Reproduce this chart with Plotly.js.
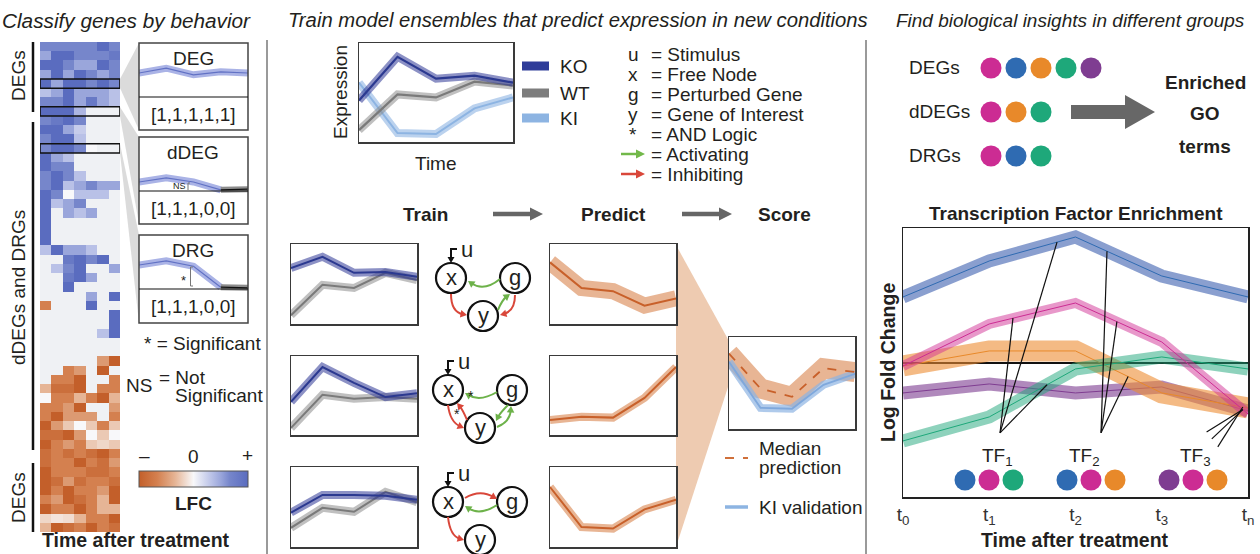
<!DOCTYPE html>
<html>
<head>
<meta charset="utf-8">
<script src="https://cdn.plot.ly/plotly-3.0.1.min.js"></script>
<style>html,body{margin:0;padding:0;background:#fff;overflow:hidden}</style>
</head>
<body>
<div id="chart" style="width:1260px;height:554px"></div>
<script>
// ================= DATA =================
const N = null;
// heatmap: log fold change per gene (rows) and time point (columns); null = not significant
const heatColumns = [0,1,2,3,4,5,6];
const heatLFC = [
 [2,2,2,2,2,3,2],
 [1.5,3,3,2,2,2,2.5],
 [3,3,2,1.5,1.5,3,2],
 [1.5,3,1.5,3,2,1.5,2],
 [3,1.5,3,3,2,3,2],
 [1,1.5,3,1.5,1.5,1.5,1],
 [2,2,3,1.5,2.5,1.5,1],
 [3,3,3,1.2,N,N,N],
 [2,2.5,3,2,N,N,N],
 [3,3,1.5,0.8,N,N,N],
 [2,3,3,1,N,N,N],
 [2,3,3,2,0,N,N],
 [3,1.5,1,N,N,N,N],
 [3,2,2,N,N,N,N],
 [2,3,2,1,N,N,N],
 [2,3,1,1.5,2,1.5,1.5],
 [3,2,0,1,1,1,N],
 [3,1,1.5,2,N,N,N],
 [3,N,1.5,1,1.5,N,N],
 [3,N,N,N,N,N,N],
 [3,N,N,N,N,N,N],
 [3,N,N,N,N,N,N],
 [1,3,1.5,1.5,1,N,N],
 [N,N,2.5,3,2,3,N],
 [N,1,2,3,N,N,1.5],
 [N,N,2.5,3,1.5,N,N],
 [N,N,3,N,N,N,N],
 [N,N,N,N,1.5,N,3],
 [-2,N,N,N,3,N,N],
 [N,N,N,N,N,N,3],
 [N,N,N,N,N,N,3],
 [N,N,N,N,N,1,3],
 [N,N,N,N,N,N,N],
 [N,N,N,N,N,N,N],
 [N,N,N,N,N,-1.5,-3],
 [N,N,-2,-1.5,N,-3,N],
 [N,-2,-2,-3,N,N,-2],
 [-1,-2.5,-2.5,-3,N,-2,-2],
 [0,-2,-2,-1,-2,-3,-1],
 [-2,-2,-1.5,-3,N,N,-1.5],
 [-2,-3,-1.5,-1.5,-1.5,N,-2],
 [-3,-1.5,-0.7,0,-0.7,-2,-0.7],
 [-2.5,-2.5,-3,-1.5,0,-0.7,0],
 [-3,-2,-1.5,-2,-0.7,-0.5,-0.7],
 [-2.5,-2,-2.5,-2,-2.5,-3,-2],
 [-2.5,-2,-2,-3,-2,-2.5,-1.5],
 [-3,-2,-2,-2,-2.5,-2.5,-2],
 [-3,-2.5,-1.5,-2.5,-2,-2,-2.5],
 [-3,-2,-3,-2,-2,-1.5,-3],
 [-2,-1.5,-3,-2.5,-2,-1,-3],
 [-3,-2,-2,-3,-2,-1,-1],
 [-0.5,-0.3,-0.4,-1,-2,-2,-3],
 [-1,-3,-2.5,-2,-3,-2,-2.5]
];
const highlightedRows = [4,7,11];

// inset example profiles
const insetTimes = [0,1,2,3,4];
const degProfile  = [0.50,0.58,0.47,0.52,0.50];
const ddegProfile = [0.25,0.32,0.25,0.12,N];
const ddegFlat    = [N,N,N,0.12,0.13];
const drgProfile  = [0.50,0.57,0.48,0.13,N];
const drgFlat     = [N,N,N,0.13,0.12];

// middle: expression schematic
const timePoints = [0,1,2,3,4];
const exprKO = [4.2,8.6,6.4,6.7,6.0];
const exprWT = [1.2,4.8,4.5,6.1,5.7];
const exprKI = [6.0,0.9,0.8,3.4,4.5];

// training data per model (KO and WT)
const train1KO = [7.0,8.4,6.4,6.5,5.9], train1WT = [1.1,4.9,4.5,6.4,5.5];
const train2KO = [4.2,8.6,6.6,4.8,5.3], train2WT = [0.9,5.1,4.6,4.8,4.6];
const train3KO = [4.3,6.5,6.5,6.4,5.9], train3WT = [2.4,4.9,4.4,6.9,5.6];
// KI predictions per model
const predict1 = [7.7,4.5,4.1,2.3,3.2];
const predict2 = [1.9,2.3,2.2,4.7,8.6];
const predict3 = [7.5,2.5,2.3,4.7,5.9];
// scoring
const medianPrediction = [8.2,4.4,3.5,6.6,6.2];
const kiValidation     = [7.3,2.3,2.2,4.8,6.0];

// right: transcription factor enrichment
const tfTickLabels = ['t<sub>0</sub>','t<sub>1</sub>','t<sub>2</sub>','t<sub>3</sub>','t<sub>n</sub>'];
const lfcBlue    = [2.2,3.4,4.2,2.9,2.2];
const lfcMagenta = [-0.1,1.3,2.0,0.7,-1.7];
const lfcOrange  = [-0.1,0.4,0.4,-1.0,-1.5];
const lfcGreen   = [-2.6,-1.8,-0.2,0.2,-0.2];
const lfcPurple  = [-1.0,-0.7,-1.0,-0.8,-1.6];
const goGroups = ['DEGs','dDEGs','DRGs'];
const goTerms  = [['magenta','blue','orange','green','purple'],['magenta','orange','green'],['magenta','blue','green']];
const tfNames   = ['TF<sub>1</sub>','TF<sub>2</sub>','TF<sub>3</sub>'];
const tfMembers = [['blue','magenta','green'],['blue','magenta','orange'],['purple','magenta','orange']];
const tfTargets = [['magenta',1.275],['blue',1.786],['green',1.67],['blue',2.365],['magenta',2.48],['orange',2.61],['purple',3.94],['magenta',3.94],['orange',3.94]];

// ================= STYLE / LAYOUT =================
const W = 1260, H = 554;
const FF  = '"Liberation Sans", Arial, Helvetica, sans-serif';
const FFN = '"Liberation Sans Narrow", "Liberation Sans", Arial, sans-serif';
const INK = '#231f20';
const C = {magenta:'#cc2c93', blue:'#2f6bb2', orange:'#e8892a', green:'#1ea87a', purple:'#7f3d91'};
const dx = (a,b)=>[a/W, b/W];
const dy = (a,b)=>[1-b/H, 1-a/H];

const layout = {width:W, height:H, margin:{l:0,r:0,t:0,b:0}, paper_bgcolor:'#fff', plot_bgcolor:'rgba(0,0,0,0)',
  showlegend:false, font:{family:FF, color:INK}, shapes:[], annotations:[], hovermode:false};
function hiddenAx(dom, range, anchor){ return {domain:dom, range:range, visible:false, fixedrange:true, anchor:anchor}; }
function boxAx(dom, range, anchor, extra){ return Object.assign({domain:dom, range:range, anchor:anchor, showline:true, mirror:true,
  linecolor:'#3a3a3a', linewidth:1.5, showgrid:false, zeroline:false, showticklabels:false, ticks:'', fixedrange:true}, extra||{}); }
function setAx(n, xa, ya){ layout['xaxis'+(n===1?'':n)] = xa; layout['yaxis'+(n===1?'':n)] = ya; }

setAx(1, hiddenAx([0,1],[0,W],'y'), hiddenAx([0,1],[H,0],'x'));
setAx(2, hiddenAx(dx(40,120),[-0.5,6.5],'y2'), hiddenAx(dy(42,532),[52.5,-0.5],'x2'));
setAx(3, hiddenAx(dx(139,248),[0,4],'y3'), hiddenAx(dy(43,103),[0,1],'x3'));
setAx(4, hiddenAx(dx(139,248),[0,4],'y4'), hiddenAx(dy(137,197),[0,1],'x4'));
setAx(5, hiddenAx(dx(139,248),[0,4],'y5'), hiddenAx(dy(235,295),[0,1],'x5'));
setAx(6, boxAx(dx(359,513),[0,4],'y6'), boxAx(dy(43,142),[0,10],'x6'));
const rowsY = [[244,324],[356,435],[467,547]];
rowsY.forEach((r,i)=>{
  setAx(7+i, boxAx(dx(291,417),[0,4],'y'+(7+i)), boxAx(dy(r[0],r[1]),[0,10],'x'+(7+i)));
  setAx(10+i, boxAx(dx(550,676),[0,4],'y'+(10+i)), boxAx(dy(r[0],r[1]),[0,10],'x'+(10+i)));
});
setAx(13, boxAx(dx(729,855),[0,4],'y13'), boxAx(dy(337,429),[0,10],'x13'));
setAx(14, boxAx(dx(903,1248),[0,4],'y14',{tickvals:timePoints, ticktext:tfTickLabels, showticklabels:true, tickfont:{size:19,color:'#333'}, ticklabelstandoff:0, layer:'above traces', linecolor:'#222'}),
          boxAx(dy(228,497),[-4.47,4.5],'x14',{zeroline:true, zerolinecolor:'#111', zerolinewidth:1.2, layer:'above traces', linecolor:'#222'}));
setAx(15, hiddenAx(dx(978.5,1103.5),[-0.5,4.5],'y15'), hiddenAx(dy(46,178),[2.5,-0.5],'x15'));
setAx(16, hiddenAx(dx(953,1229),[-0.5,11],'y16'), hiddenAx(dy(470,490),[-1,1],'x16'));

const S = layout.shapes, A = layout.annotations;
function seg(x0,y0,x1,y1,color,width,o){ S.push(Object.assign({type:'line',xref:'x',yref:'y',x0,y0,x1,y1,line:{color,width},layer:'above'},o||{})); }
function rect(x0,y0,x1,y1,o){ S.push(Object.assign({type:'rect',xref:'x',yref:'y',x0,y0,x1,y1,line:{color:'#444',width:1.5},fillcolor:'rgba(0,0,0,0)',layer:'above'},o||{})); }
function poly(pts,fill,o){ S.push(Object.assign({type:'path',xref:'x',yref:'y',path:'M'+pts.map(p=>p[0]+','+p[1]).join(' L')+' Z',fillcolor:fill,line:{width:0},layer:'above'},o||{})); }
function head(x,y,ddx,ddy,color,L,hw){ const n=Math.hypot(ddx,ddy), ux=ddx/n, uy=ddy/n, bx=x-ux*L, by=y-uy*L;
  poly([[x,y],[bx-uy*hw,by+ux*hw],[bx+uy*hw,by-ux*hw]],color); }
function txt(x,y,text,size,o,font){ A.push(Object.assign({xref:'x',yref:'y',x,y,text,showarrow:false,xanchor:'center',yanchor:'middle',
  font:Object.assign({size:size||19,family:FF,color:INK},font||{})},o||{})); }

// ================= TRACES =================
const traces = [];
function ln(ax, xs, ys, color, width, extra){ const s = ax===1?'':ax;
  traces.push(Object.assign({type:'scatter',mode:'lines',x:xs,y:ys,xaxis:'x'+s,yaxis:'y'+s,line:{color,width},hoverinfo:'skip',connectgaps:false},extra||{})); }

// heatmap
const lfcScale = [[0,'#c35f2a'],[0.167,'#d4804f'],[0.25,'#dc9a72'],[0.333,'#e6b596'],[0.5,'#f8f8fa'],[0.667,'#b9c1e7'],[0.75,'#9aa6db'],[0.833,'#7686cb'],[1,'#5a6cbf']];
traces.push({type:'heatmap', z:heatLFC, x:heatColumns, xaxis:'x2', yaxis:'y2', zmin:-3, zmax:3, colorscale:lfcScale, hoverinfo:'skip',
  showscale:true, colorbar:{orientation:'h', x:139/W, xanchor:'left', y:1-471/H, yanchor:'top', len:109, lenmode:'pixels', thickness:16, thicknessmode:'pixels',
  outlinewidth:1, outlinecolor:'#555', showticklabels:false, ticks:'', xpad:0, ypad:0, borderwidth:0}});
S.push({type:'rect',xref:'x2',yref:'y2',x0:-0.5,x1:6.5,y0:-0.5,y1:52.5,fillcolor:'#eff1f4',line:{width:0},layer:'below'});
highlightedRows.forEach(r=>S.push({type:'rect',xref:'x2',yref:'y2',x0:-0.5,x1:6.5,y0:r-0.5,y1:r+0.5,line:{color:'#111',width:1.6},layer:'above'}));

// insets
const insetBand='#aab3e6', insetLine='#6272c4';
[[3,degProfile,null],[4,ddegProfile,ddegFlat],[5,drgProfile,drgFlat]].forEach(([ax,p,f])=>{
  ln(ax, insetTimes, p, insetBand, 7); ln(ax, insetTimes, p, insetLine, 1.2);
  if(f){ ln(ax, insetTimes, f, '#8c8c8c', 6); ln(ax, insetTimes, f, '#111', 1.3); }
});

// expression schematic
ln(6,timePoints,exprKI,'rgba(141,180,226,0.6)',8); ln(6,timePoints,exprKI,'#8db4e2',2);
ln(6,timePoints,exprWT,'rgba(140,140,140,0.55)',8); ln(6,timePoints,exprWT,'#7a7a7a',2.2);
ln(6,timePoints,exprKO,'rgba(45,55,150,0.55)',8); ln(6,timePoints,exprKO,'#2b3990',2.2);

// train
[[7,train1KO,train1WT],[8,train2KO,train2WT],[9,train3KO,train3WT]].forEach(([ax,ko,wt])=>{
  ln(ax,timePoints,wt,'rgba(140,140,140,0.55)',8); ln(ax,timePoints,wt,'#7a7a7a',2);
  ln(ax,timePoints,ko,'rgba(45,55,150,0.55)',8); ln(ax,timePoints,ko,'#2b3990',2);
});
// predict
[[10,predict1,16],[11,predict2,8],[12,predict3,8]].forEach(([ax,p,w])=>{
  ln(ax,timePoints,p,'rgba(214,120,60,0.55)',w); ln(ax,timePoints,p,'#c8602a',2);
});
// score
ln(13,timePoints,medianPrediction,'rgba(214,120,60,0.55)',20);
ln(13,timePoints,kiValidation,'rgba(141,180,226,0.7)',8); ln(13,timePoints,kiValidation,'#7fa8dc',1.8);
ln(13,timePoints,medianPrediction,'#c8602a',1.8,{line:{color:'#c8602a',width:1.8,dash:'dash'}});

// TF chart
const tfSeries = {purple:lfcPurple, orange:lfcOrange, green:lfcGreen, magenta:lfcMagenta, blue:lfcBlue};
const tfBand = {purple:['rgba(124,59,143,0.6)',13], orange:['rgba(236,140,50,0.6)',21], green:['rgba(30,166,122,0.5)',13], magenta:['rgba(210,50,150,0.5)',10], blue:['rgba(60,95,175,0.6)',13]};
Object.keys(tfSeries).forEach(k=>{ ln(14,timePoints,tfSeries[k],tfBand[k][0],tfBand[k][1]); ln(14,timePoints,tfSeries[k],C[k],1); });

// GO circles
goTerms.forEach((row,gi)=>traces.push({type:'scatter',mode:'markers',x:row.map((_,i)=>i),y:row.map(()=>gi),xaxis:'x15',yaxis:'y15',
  marker:{size:21,color:row.map(c=>C[c]),line:{width:0}},hoverinfo:'skip',cliponaxis:false}));
goGroups.forEach((g,gi)=>A.push({xref:'x',yref:'y15',x:907,y:gi,text:g,showarrow:false,xanchor:'left',yanchor:'middle',font:{size:19,family:FF,color:INK}}));
// TF circles
tfMembers.forEach((row,gi)=>traces.push({type:'scatter',mode:'markers',x:row.map((_,i)=>gi*4.25+i),y:row.map(()=>0),xaxis:'x16',yaxis:'y16',
  marker:{size:21,color:row.map(c=>C[c]),line:{width:0}},hoverinfo:'skip',cliponaxis:false}));

// TF link lines (data coords of TF axis)
function interp(arr,x){ const i=Math.min(Math.floor(x),arr.length-2), f=x-i; return arr[i]*(1-f)+arr[i+1]*f; }
const tfLinkFrom = [[1.125,-2.33],[1.125,-2.33],[1.125,-2.33],[2.296,-2.33],[2.296,-2.33],[2.296,-2.33],[3.52,-2.3],[3.58,-2.53],[3.65,-2.8]];
tfTargets.forEach((t,i)=>S.push({type:'line',xref:'x14',yref:'y14',x0:tfLinkFrom[i][0],y0:tfLinkFrom[i][1],x1:t[1],y1:interp(tfSeries[t[0]],t[1]),line:{color:'#111',width:1.2},layer:'above'}));

// ================= SCHEMATIC SHAPES =================
// panel separators
seg(267,40,267,554,'#9a9a9a',2); seg(866,40,866,554,'#9a9a9a',2);
// wedges from highlighted rows to insets
poly([[120,79],[139,43],[139,130],[120,88]],'rgba(165,165,165,0.4)',{layer:'below'});
poly([[120,107],[139,137],[139,224],[120,116]],'rgba(165,165,165,0.4)',{layer:'below'});
poly([[120,144],[139,235],[139,323],[120,153]],'rgba(165,165,165,0.4)',{layer:'below'});
// inset boxes
rect(139,43,248,130); seg(139,97,248,97,'#111',1.2);
rect(139,137,248,224); seg(139,191,248,191,'#111',1.2);
rect(139,235,248,323); seg(139,289,248,289,'#111',1.2);
S.push({type:'path',xref:'x',yref:'y',path:'M190,183 L188,183 L188,190',line:{color:'#777',width:1},layer:'above'});
S.push({type:'path',xref:'x',yref:'y',path:'M193,267 L190.5,267 L190.5,286 L193,286',line:{color:'#777',width:1},layer:'above'});
// left group bars
seg(33,42,33,112,'#111',2.5); seg(33,122,33,450,'#111',2.5); seg(33,463,33,532,'#111',2.5);

// middle legend swatches
seg(522,66,549,66,'#2e3c99',9); seg(522,93,549,93,'#7d7d7d',9); seg(522,118,549,118,'#8db4e2',9);
seg(621,154,637,154,'#72b84a',2.5); head(645,154,1,0,'#72b84a',9,4.5);
seg(621,174,637,174,'#d9473a',2.5); head(645,174,1,0,'#d9473a',9,4.5);
// step arrows
seg(493,214,531,214,'#666',4.5); head(543,214,1,0,'#666',13,6.5);
seg(682,214,720,214,'#666',4.5); head(732,214,1,0,'#666',13,6.5);
// funnel to score box
poly([[676,245],[729,341],[729,384],[676,547]],'#eecbb1',{layer:'below'});
// score legend
seg(725,458,748,458,'#d0703a',2.2,{line:{color:'#d0703a',width:2.2,dash:'dash'}});
seg(725,507,748,507,'#8db4e2',3.5);

// networks
const netOrigins = [[483,278],[480,390],[480,502]];
const nodeOff = {x:[-32,0], g:[32,0], y:[0,38]};
const GREEN='#6db24a', RED='#d9473a';
const netArrows = [
 [['G',17,1,1,14,-15,3],['R',-32,16,-32,34,-16,37],['G',15,32,19,22,27,16],['R',32,17,32,33,17,37]],
 [['G',17,2,0,12,-15,3],['R',-32,15,-30,32,-16,38],['R',-13,30,-17,20,-23,13],['G',17,37,30,32,31,16],['G',28,15,20,23,16,31]],
 [['R',-15,-4,0,-13,17,-3],['G',17,3,0,14,-15,4],['R',-32,15,-30,34,-16,38]]
];
const netStars = [[],[[-9,4],[-23,22]],[]];
netOrigins.forEach(([ox,oy],d)=>{
  Object.keys(nodeOff).forEach(k=>{ const cx=ox+nodeOff[k][0], cy=oy+nodeOff[k][1];
    S.push({type:'circle',xref:'x',yref:'y',x0:cx-15,x1:cx+15,y0:cy-15,y1:cy+15,line:{color:'#111',width:2.2},fillcolor:'#fff',layer:'above'});
    txt(cx,cy-1,k,22); });
  netArrows[d].forEach(a=>{ const col=a[0]==='G'?GREEN:RED;
    const x0=ox+a[1],y0=oy+a[2],cx=ox+a[3],cy=oy+a[4],x1=ox+a[5],y1=oy+a[6];
    const n=Math.hypot(x1-cx,y1-cy), ex=x1-(x1-cx)/n*4, ey=y1-(y1-cy)/n*4;
    S.push({type:'path',xref:'x',yref:'y',path:`M${x0},${y0} Q${cx},${cy} ${ex},${ey}`,line:{color:col,width:2},layer:'above'});
    head(x1,y1,x1-cx,y1-cy,col,6.5,3.8); });
  netStars[d].forEach(s=>txt(ox+s[0],oy+s[1]+2,'*',14));
  const xn=ox-32;
  seg(xn,oy-29,xn,oy-21,'#111',2); seg(xn-1,oy-29,xn+6,oy-29,'#111',2); head(xn,oy-15,0,1,'#111',6,3.5);
  txt(xn+16,oy-29,'u',22);
});

// right arrow
poly([[1071,105],[1125,105],[1125,95],[1155,112],[1125,129],[1125,119],[1071,119]],'#676767');

// ================= TEXT =================
function fitSize(text,target,style,weight,family){ const ctx=document.createElement('canvas').getContext('2d');
  ctx.font=`${style} ${weight} 100px ${family}`; return 100*target/ctx.measureText(text).width; }
const titles = [['Classify genes by behavior',126,248],['Train model ensembles that predict expression in new conditions',578,580],['Find biological insights in different groups',1070,345]];
const fits = titles.map(t=>fitSize(t[0],t[2],'italic','normal',FFN));
const common = fits[1];
titles.forEach(([t,cx,w],i)=>{ const s = i===2 ? Math.min(common, fits[2]*1.01) : Math.min(common*1.03, fits[i]);
  txt(cx,20,t,s,{},{family:FFN,style:'italic'}); });

// left
txt(18,76,'DEGs',19,{textangle:-90}); txt(18,288,'dDEGs and DRGs',19,{textangle:-90}); txt(18,498,'DEGs',19,{textangle:-90});
txt(193,58,'DEG',19); txt(193,152,'dDEG',19); txt(193,250,'DRG',19);
txt(193,114,'[1,1,1,1,1]',19); txt(193,208,'[1,1,1,0,0]',19); txt(193,306,'[1,1,1,0,0]',19);
txt(179,186,'NS',9); txt(183,280,'*',13);
txt(142,343,'* = Significant',19,{xanchor:'left'});
txt(124,385,'NS',19,{xanchor:'left'}); txt(157,377,'= Not',19,{xanchor:'left'}); txt(173,395,'Significant',19,{xanchor:'left'});
txt(144,455,'–',19); txt(193,456,'0',19); txt(247,455,'+',19);
txt(193,503,'<b>LFC</b>',19);
txt(136,540,'<b>Time after treatment</b>',19.5);

// middle
txt(340,92,'Expression',19,{textangle:-90}); txt(436,163,'Time',19);
txt(558,66,'KO',19,{xanchor:'left'}); txt(558,93,'WT',19,{xanchor:'left'}); txt(558,118,'KI',19,{xanchor:'left'});
[['u','Stimulus'],['x','Free Node'],['g','Perturbed Gene'],['y','Gene of Interest'],['*','AND Logic']].forEach((r,i)=>{
  txt(633,54+20*i,r[0],19); txt(649,54+20*i,'= '+r[1],19,{xanchor:'left'}); });
txt(649,154,'= Activating',19,{xanchor:'left'}); txt(649,174,'= Inhibiting',19,{xanchor:'left'});
txt(425,214,'<b>Train</b>',19); txt(613,214,'<b>Predict</b>',19); txt(784,214,'<b>Score</b>',19);
txt(757,448,'Median',19,{xanchor:'left'}); txt(757,467,'prediction',19,{xanchor:'left'}); txt(757,507,'KI validation',19,{xanchor:'left'});

// right
txt(1205,82,'<b>Enriched</b>',19); txt(1205,113,'<b>GO</b>',19); txt(1205,146,'<b>terms</b>',19);
txt(1076,213,'<b>Transcription Factor Enrichment</b>',19);
txt(888,363,'<b>Log Fold Change</b>',19.5,{textangle:-90});
txt(1075,540,'<b>Time after treatment</b>',19.5);
[[997,457],[1084,457],[1195,457]].forEach((p,i)=>txt(p[0],p[1],tfNames[i],19));

Plotly.newPlot('chart', traces, layout, {staticPlot:true, displayModeBar:false});
</script>
</body>
</html>
